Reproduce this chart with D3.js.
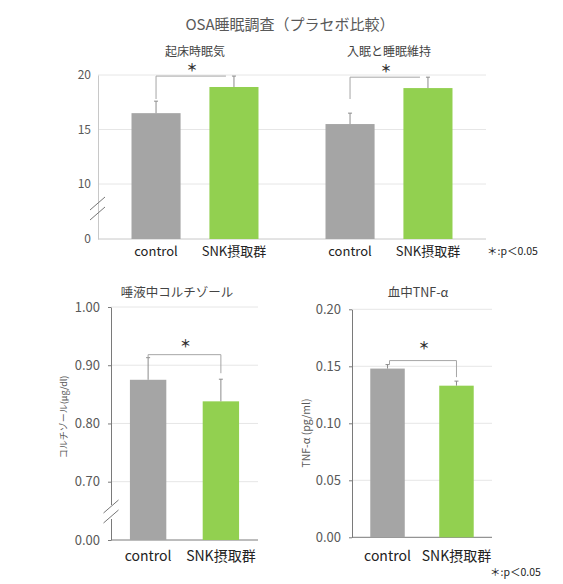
<!DOCTYPE html>
<html>
<head>
<meta charset="utf-8">
<style>
body { margin: 0; background: #fff; }
svg text { font-family: "Noto Sans CJK JP", "Noto Sans", sans-serif; }
</style>
</head>
<body>
<svg width="563" height="584"></svg>
<script src="https://cdn.jsdelivr.net/npm/d3@7"></script>
<script>
// data
var groups = ["control", "SNK摂取群"];

var sleepItems = ["起床時眠気", "入眠と睡眠維持"];
var sleepControl = [16.5, 15.5];
var sleepSnk = [18.9, 18.8];
var sleepControlErr = [1.1, 1.0];
var sleepSnkErr = [1.0, 1.0];
var sleepTicks = [0, 10, 15, 20];

var cortisolMeans = [0.875, 0.838];
var cortisolErr = [0.038, 0.038];
var cortisolTicks = [0, 0.7, 0.8, 0.9, 1.0];

var tnfMeans = [0.148, 0.133];
var tnfErr = [0.0035, 0.004];
var tnfTicks = [0, 0.05, 0.1, 0.15, 0.2];

var colors = {"control": "#a5a5a5", "SNK摂取群": "#92d050"};

var svg = d3.select("svg");

function errorBar(g, cx, y0, y1, color) {
	g.append("line").attr("x1", cx).attr("x2", cx).attr("y1", y0).attr("y2", y1)
		.attr("stroke", color).attr("stroke-width", 1);
	g.append("line").attr("x1", cx - 2).attr("x2", cx + 2).attr("y1", y1).attr("y2", y1)
		.attr("stroke", color).attr("stroke-width", 1);
}

function bracket(g, xa, ya, xb, yb, ytop, starGap) {
	g.append("path")
		.attr("d", "M" + xa + "," + ya + "V" + ytop + "H" + xb + "V" + yb)
		.attr("fill", "none").attr("stroke", "#a6a6a6").attr("stroke-width", 1);
	// star centre sits starGap px above the bracket
	g.append("text").attr("x", (xa + xb) / 2 + 1).attr("y", ytop - starGap + 4)
		.attr("text-anchor", "middle").attr("font-size", 11).attr("font-weight", "bold")
		.attr("fill", "#333").text("＊");
}

function breakMark(g, x, y, hideAxis) {
	if (hideAxis) {
		g.append("rect").attr("x", x - 3).attr("y", y - 7).attr("width", 6).attr("height", 14).attr("fill", "#fff");
	}
	[-5, 5].forEach(function(o) {
		g.append("line")
			.attr("x1", x - 8).attr("y1", y + o + 6)
			.attr("x2", x + 7).attr("y2", y + o - 7)
			.attr("stroke", "#777").attr("stroke-width", 1);
	});
}

function styleAxis(ax, color, size) {
	ax.select(".domain").attr("stroke", color);
	ax.selectAll(".tick line").attr("stroke", color);
	ax.selectAll(".tick text").attr("fill", "#595959").attr("font-size", size)
		.style("font-family", '"Noto Sans CJK JP", "Noto Sans", sans-serif');
}

/* ---- top: sleep survey ---- */
svg.append("text").attr("x", 290).attr("y", 30).attr("text-anchor", "middle")
	.attr("font-size", 15).attr("fill", "#595959").text("OSA睡眠調査（プラセボ比較）");

var yTop = d3.scaleLinear().domain([0, 10, 20]).range([239, 184, 75]);
var xOuter = d3.scaleBand().domain(sleepItems).range([98, 486]);
var xInner = d3.scaleBand().domain(groups).range([0, xOuter.bandwidth()])
	.paddingInner(0.37).paddingOuter(0.43);

var gTop = svg.append("g");
gTop.selectAll("line.grid").data(sleepTicks.filter(function(d) { return d > 0; }))
	.enter().append("line").attr("class", "grid")
	.attr("x1", 98).attr("x2", 486)
	.attr("y1", function(d) { return yTop(d); }).attr("y2", function(d) { return yTop(d); })
	.attr("stroke", "#e6e6e6");

var axTop = gTop.append("g").attr("transform", "translate(98,0)")
	.call(d3.axisLeft(yTop).tickValues(sleepTicks).tickSize(0).tickPadding(7));
styleAxis(axTop, "#c8c8c8", 12);
gTop.append("line").attr("x1", 98).attr("x2", 486).attr("y1", yTop(0)).attr("y2", yTop(0))
	.attr("stroke", "#c8c8c8");

sleepItems.forEach(function(item, i) {
	var means = [sleepControl[i], sleepSnk[i]];
	var errs = [sleepControlErr[i], sleepSnkErr[i]];
	var ox = xOuter(item);
	gTop.append("text").attr("x", ox + xOuter.bandwidth() / 2).attr("y", 56)
		.attr("text-anchor", "middle").attr("font-size", 12).attr("fill", "#444").text(item);
	groups.forEach(function(gr, j) {
		var bx = ox + xInner(gr);
		gTop.append("rect").attr("x", bx).attr("width", xInner.bandwidth())
			.attr("y", yTop(means[j])).attr("height", yTop(0) - yTop(means[j]))
			.attr("fill", colors[gr]);
		errorBar(gTop, bx + xInner.bandwidth() / 2, yTop(means[j]), yTop(means[j] + errs[j]), "#8c8c8c");
		gTop.append("text").attr("x", bx + xInner.bandwidth() / 2).attr("y", 256)
			.attr("text-anchor", "middle").attr("font-size", 13).attr("fill", "#222").text(gr);
	});
	var cx0 = ox + xInner(groups[0]) + xInner.bandwidth() / 2;
	var cx1 = ox + xInner(groups[1]) + xInner.bandwidth() / 2;
	var ytop = yTop(means[1] + errs[1]);
	bracket(gTop, cx0, 99, cx1 - 8, ytop, ytop, 8);
});
breakMark(gTop, 98, 209, false);
svg.append("text").attr("x", 487).attr("y", 255).attr("font-size", 10.5).attr("fill", "#222").text("＊:p＜0.05");

/* ---- bottom left: cortisol ---- */
var yCor = d3.scaleLinear().domain([0, 0.7, 1.0]).range([540, 481.7, 307]);
var xCor = d3.scaleBand().domain(groups).range([111, 258]).paddingInner(0.5).paddingOuter(0.26);
var gCor = svg.append("g");
gCor.append("text").attr("x", 177).attr("y", 297).attr("text-anchor", "middle")
	.attr("font-size", 12.5).attr("fill", "#444").text("唾液中コルチゾール");
gCor.selectAll("line.grid").data(cortisolTicks.filter(function(d) { return d > 0; }))
	.enter().append("line").attr("class", "grid")
	.attr("x1", 111).attr("x2", 258)
	.attr("y1", function(d) { return yCor(d); }).attr("y2", function(d) { return yCor(d); })
	.attr("stroke", "#e6e6e6");
var axCor = gCor.append("g").attr("transform", "translate(111,0)")
	.call(d3.axisLeft(yCor).tickValues(cortisolTicks).tickFormat(d3.format(".2f")).tickSizeInner(3).tickSizeOuter(0).tickPadding(8));
styleAxis(axCor, "#7a7a7a", 13);
gCor.append("line").attr("x1", 111).attr("x2", 258).attr("y1", yCor(0)).attr("y2", yCor(0)).attr("stroke", "#7a7a7a");
groups.forEach(function(gr, j) {
	var bx = xCor(gr), cx = bx + xCor.bandwidth() / 2;
	gCor.append("rect").attr("x", bx).attr("width", xCor.bandwidth())
		.attr("y", yCor(cortisolMeans[j])).attr("height", yCor(0) - yCor(cortisolMeans[j]))
		.attr("fill", colors[gr]);
	errorBar(gCor, cx, yCor(cortisolMeans[j]), yCor(cortisolMeans[j] + cortisolErr[j]), "#8c8c8c");
	gCor.append("text").attr("x", cx).attr("y", 561).attr("text-anchor", "middle")
		.attr("font-size", 14).attr("fill", "#222").text(gr);
});
(function() {
	var c0 = xCor(groups[0]) + xCor.bandwidth() / 2, c1 = xCor(groups[1]) + xCor.bandwidth() / 2;
	var ya = yCor(cortisolMeans[0] + cortisolErr[0]), yb = yCor(cortisolMeans[1] + cortisolErr[1]);
	bracket(gCor, c0, ya, c1, yb - 6, ya - 3, 11);
})();
breakMark(gCor, 111.5, 512, true);
gCor.append("text").attr("transform", "translate(67,417) rotate(-90)").attr("text-anchor", "middle")
	.attr("font-size", 9).attr("fill", "#595959").text("コルチゾール(μg/dl)");

/* ---- bottom right: TNF-alpha ---- */
var yTnf = d3.scaleLinear().domain([0, 0.2]).range([537.3, 309.3]);
var xTnf = d3.scaleBand().domain(groups).range([352, 492]).paddingInner(0.5).paddingOuter(0.265);
var gTnf = svg.append("g");
gTnf.append("text").attr("x", 418).attr("y", 297).attr("text-anchor", "middle")
	.attr("font-size", 12.5).attr("fill", "#444").text("血中TNF-α");
gTnf.selectAll("line.grid").data(tnfTicks.filter(function(d) { return d > 0; }))
	.enter().append("line").attr("class", "grid")
	.attr("x1", 352).attr("x2", 492)
	.attr("y1", function(d) { return yTnf(d); }).attr("y2", function(d) { return yTnf(d); })
	.attr("stroke", "#e6e6e6");
var axTnf = gTnf.append("g").attr("transform", "translate(352,0)")
	.call(d3.axisLeft(yTnf).tickValues(tnfTicks).tickFormat(d3.format(".2f")).tickSizeInner(3).tickSizeOuter(0).tickPadding(8));
styleAxis(axTnf, "#7a7a7a", 13);
gTnf.append("line").attr("x1", 352).attr("x2", 492).attr("y1", yTnf(0)).attr("y2", yTnf(0)).attr("stroke", "#7a7a7a");
groups.forEach(function(gr, j) {
	var bx = xTnf(gr), cx = bx + xTnf.bandwidth() / 2;
	gTnf.append("rect").attr("x", bx).attr("width", xTnf.bandwidth())
		.attr("y", yTnf(tnfMeans[j])).attr("height", yTnf(0) - yTnf(tnfMeans[j]))
		.attr("fill", colors[gr]);
	errorBar(gTnf, cx, yTnf(tnfMeans[j]), yTnf(tnfMeans[j] + tnfErr[j]), "#8c8c8c");
	gTnf.append("text").attr("x", cx).attr("y", 561).attr("text-anchor", "middle")
		.attr("font-size", 14).attr("fill", "#222").text(gr);
});
(function() {
	var c0 = xTnf(groups[0]) + xTnf.bandwidth() / 2, c1 = xTnf(groups[1]) + xTnf.bandwidth() / 2;
	var ya = yTnf(tnfMeans[0] + tnfErr[0]), yb = yTnf(tnfMeans[1] + tnfErr[1]);
	bracket(gTnf, c0 + 2, ya, c1, yb - 4, ya - 4, 15);
})();
gTnf.append("text").attr("transform", "translate(310,433) rotate(-90)").attr("text-anchor", "middle")
	.attr("font-size", 10.5).attr("fill", "#595959").text("TNF-α (pg/ml)");
svg.append("text").attr("x", 490).attr("y", 576).attr("font-size", 10.5).attr("fill", "#222").text("＊:p＜0.05");
</script>
</body>
</html>
